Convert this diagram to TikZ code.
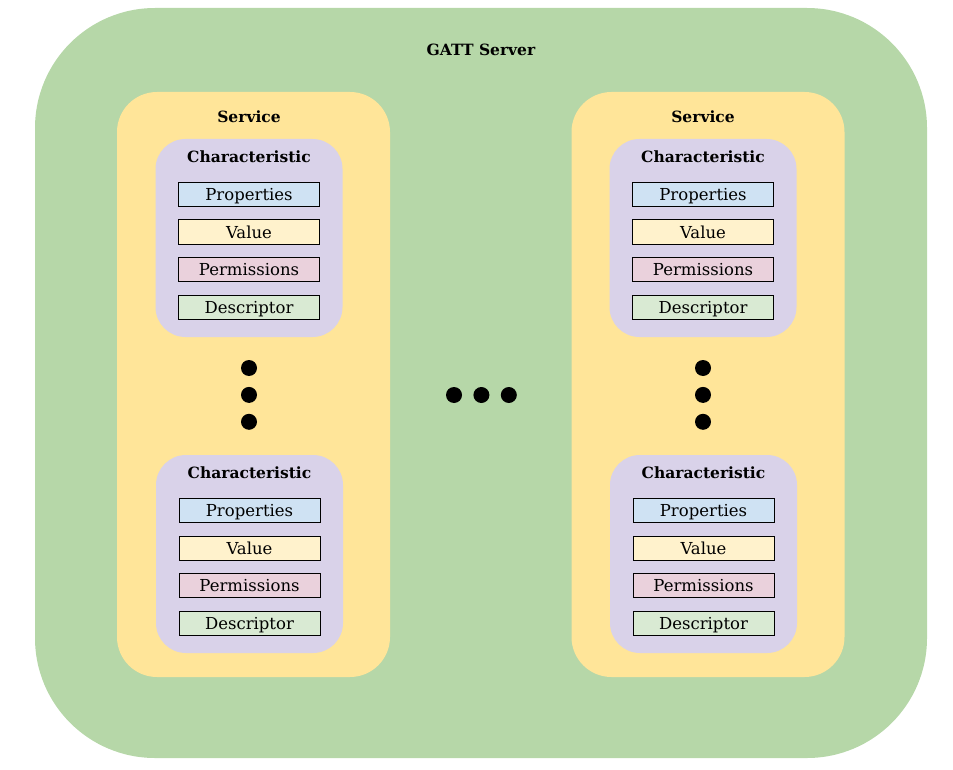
\documentclass[tikz,border=0pt]{standalone}
\usepackage{fontspec}
\setmainfont{DejaVu Serif}
\usetikzlibrary{positioning}
\definecolor{servergreen}{HTML}{B6D7A8}
\definecolor{serviceyellow}{HTML}{FFE599}
\definecolor{charpurple}{HTML}{D9D2E9}
\definecolor{propblue}{HTML}{CFE2F3}
\definecolor{valyellow}{HTML}{FFF2CC}
\definecolor{permpink}{HTML}{EAD1DC}
\definecolor{descgreen}{HTML}{D9EAD3}

\begin{document}
\begin{tikzpicture}[x=1pt, y=-1pt,
    server/.style={rectangle, fill=servergreen, rounded corners=120pt,
                   minimum width=892pt, minimum height=750pt},
    service/.style={rectangle, fill=serviceyellow, rounded corners=40pt,
                    minimum width=273pt, minimum height=585pt},
    charbox/.style={rectangle, fill=charpurple, rounded corners=30pt,
                    minimum width=187pt, minimum height=198pt},
    field/.style={rectangle, draw=black, line width=0.9pt, inner sep=0pt,
                  minimum width=141pt, minimum height=24pt,
                  text height=13.5pt, text depth=1pt,
                  font=\fontsize{16.5}{18}\selectfont},
    title/.style={font=\fontsize{15.5}{18}\selectfont\bfseries},
    dot/.style={circle, fill=black, minimum size=16pt, inner sep=0pt},
]
\useasboundingbox (0,0) rectangle (953,770);

\node[server] (server) at (481,383) {};
\node[title] (serverlabel) at (481,50) {GATT Server};

\node[service] (svcL) at (253.5,384.5) {};
\node[service] (svcR) at (708,384.5) {};
\node[title] (svcLlabel) at (249,117) {Service};
\node[title] (svcRlabel) at (703,117) {Service};

\foreach \c/\cx/\cy in {chLT/249/238, chLB/249.5/554, chRT/703/238, chRB/703.5/554} {
  \node[charbox] (\c) at (\cx,\cy) {};
  \node[title] (\c-title) at (\cx,\cy-81) {Characteristic};
  \node[field, fill=propblue, below=43pt of \c.north] (\c-prop) {Properties};
  \node[field, fill=valyellow, below=12.8pt of \c-prop] (\c-val) {Value};
  \node[field, fill=permpink, below=12.8pt of \c-val] (\c-perm) {Permissions};
  \node[field, fill=descgreen, below=12.8pt of \c-perm] (\c-desc) {Descriptor};
}

% vertical dots between characteristics
\node[dot] (dotL1) at (249,368) {};
\node[dot, below=10.5pt of dotL1] (dotL2) {};
\node[dot, below=10.5pt of dotL2] (dotL3) {};
\node[dot] (dotR1) at (703,368) {};
\node[dot, below=10.5pt of dotR1] (dotR2) {};
\node[dot, below=10.5pt of dotR2] (dotR3) {};

% horizontal dots between services
\node[dot] (dotM1) at (454,395) {};
\node[dot, right=11pt of dotM1] (dotM2) {};
\node[dot, right=11pt of dotM2] (dotM3) {};

\end{tikzpicture}
\end{document}
